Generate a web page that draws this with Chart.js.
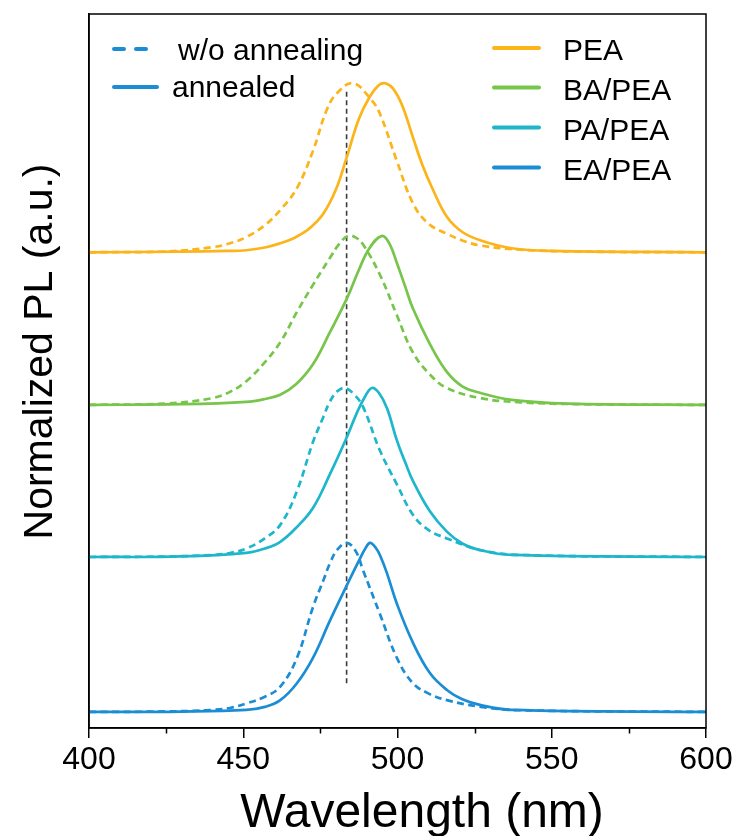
<!DOCTYPE html>
<html>
<head>
<meta charset="utf-8">
<script src="https://cdn.jsdelivr.net/npm/chart.js@4"></script>
<style>
html,body{margin:0;padding:0;background:#fff;}
canvas{display:block;}
</style>
</head>
<body>
<canvas id="c" width="737" height="836"></canvas>
<script>
// ---- data ----
const seriesNames = ['PEA', 'BA/PEA', 'PA/PEA', 'EA/PEA'];
const seriesColors = ['#FBB41A', '#77C54A', '#1DB6CA', '#1B8DD5'];
const seriesOffsets = [2.72, 1.817, 0.917, 0];

const peaAnnealedNm = [400, 430, 445, 451, 457, 462, 466, 469, 472, 476, 480, 483.5, 487.5, 491, 494, 496, 498.5, 501.5, 505, 508, 511.5, 516, 521, 527, 537, 550, 600];
const peaAnnealedPL = [0, 0.004, 0.008, 0.012, 0.028, 0.053, 0.08, 0.11, 0.15, 0.23, 0.37, 0.56, 0.79, 0.92, 0.99, 1.0, 0.97, 0.87, 0.68, 0.52, 0.37, 0.21, 0.12, 0.07, 0.024, 0.008, 0];
const peaRawNm = [400, 425, 440, 446, 451, 457, 462, 467.4, 472.6, 477, 480.3, 485.6, 491.6, 494.3, 499.8, 505, 510, 516, 521, 527, 540, 560, 600];
const peaRawPL = [0, 0.005, 0.03, 0.055, 0.09, 0.16, 0.25, 0.38, 0.6, 0.84, 0.94, 1.0, 0.9, 0.82, 0.54, 0.29, 0.17, 0.11, 0.07, 0.04, 0.015, 0.004, 0];

const baAnnealedNm = [400, 430, 451, 457, 462, 467, 472.6, 478.1, 483.6, 487.5, 491, 495, 497.5, 499.8, 502.5, 505, 510.5, 516, 521, 527, 537, 555, 600];
const baAnnealedPL = [0, 0.004, 0.018, 0.035, 0.06, 0.12, 0.24, 0.43, 0.63, 0.8, 0.93, 1.0, 0.95, 0.84, 0.7, 0.57, 0.36, 0.195, 0.11, 0.07, 0.03, 0.008, 0];
const baRawNm = [400, 425, 440, 446, 451, 456.4, 462, 467.4, 472.6, 478.1, 481, 483.9, 486.5, 488.8, 494.3, 499.8, 505, 510.5, 516, 527, 540, 560, 600];
const baRawPL = [0, 0.008, 0.04, 0.08, 0.14, 0.24, 0.37, 0.55, 0.71, 0.87, 0.95, 1.0, 0.99, 0.95, 0.77, 0.53, 0.31, 0.18, 0.10, 0.04, 0.015, 0.004, 0];

const paAnnealedNm = [400, 430, 451, 457, 462, 467, 472.6, 478.1, 483.6, 487, 489.5, 491.7, 494, 496.6, 499.8, 502.5, 505, 510.5, 516, 521, 527, 537, 600];
const paAnnealedPL = [0, 0.003, 0.024, 0.05, 0.09, 0.17, 0.29, 0.49, 0.71, 0.86, 0.95, 1.0, 0.97, 0.88, 0.69, 0.56, 0.45, 0.27, 0.15, 0.08, 0.04, 0.012, 0];
const paRawNm = [400, 425, 440, 446, 451, 457, 462, 467.4, 472.6, 476, 478.1, 480.5, 483, 486, 488.8, 494.3, 499.8, 505, 510, 516, 527, 540, 600];
const paRawPL = [0, 0.003, 0.012, 0.025, 0.05, 0.11, 0.19, 0.39, 0.68, 0.83, 0.92, 0.98, 1.0, 0.96, 0.89, 0.63, 0.43, 0.25, 0.16, 0.11, 0.04, 0.012, 0];

const eaAnnealedNm = [400, 430, 451, 457, 462, 467.4, 472.6, 478.1, 483.6, 487.5, 489.5, 491.1, 493, 494.5, 496.6, 499.8, 505, 510.5, 516, 521, 527, 537, 600];
const eaAnnealedPL = [0, 0.002, 0.012, 0.03, 0.07, 0.17, 0.32, 0.54, 0.75, 0.895, 0.965, 1.0, 0.97, 0.92, 0.82, 0.64, 0.41, 0.23, 0.13, 0.075, 0.04, 0.012, 0];
const eaRawNm = [400, 425, 440, 446, 451, 457, 462, 467.4, 472.6, 476, 478.1, 480.5, 483.6, 486.5, 488.8, 494.3, 499.8, 505, 510, 516, 527, 540, 600];
const eaRawPL = [0, 0.003, 0.012, 0.025, 0.05, 0.09, 0.15, 0.32, 0.62, 0.78, 0.88, 0.96, 1.0, 0.95, 0.84, 0.58, 0.32, 0.17, 0.11, 0.07, 0.03, 0.01, 0];

const guideNm = [483.5, 483.5];
const guideLevel = [0.17, 3.69];

const xTickValues = [400, 450, 500, 550, 600];
const xMinorTickValues = [425, 475, 525, 575];
const xTitle = 'Wavelength (nm)';
const yTitle = 'Normalized PL (a.u.)';
const legendStyleLabels = ['w/o annealing', 'annealed'];

// ---- build datasets ----
const annealedNm = [peaAnnealedNm, baAnnealedNm, paAnnealedNm, eaAnnealedNm];
const annealedPL = [peaAnnealedPL, baAnnealedPL, paAnnealedPL, eaAnnealedPL];
const rawNm = [peaRawNm, baRawNm, paRawNm, eaRawNm];
const rawPL = [peaRawPL, baRawPL, paRawPL, eaRawPL];

function pts(xs, ys, off) { return xs.map((x, i) => ({x: x, y: ys[i] + off})); }

const datasets = [];
for (let i = 0; i < 4; i++) {
  datasets.push({
    label: seriesNames[i] + ' w/o annealing',
    data: pts(rawNm[i], rawPL[i], seriesOffsets[i]),
    borderColor: seriesColors[i], borderWidth: 2.7, borderDash: [7, 4.5],
    pointRadius: 0, fill: false, tension: 0.4
  });
  datasets.push({
    label: seriesNames[i] + ' annealed',
    data: pts(annealedNm[i], annealedPL[i], seriesOffsets[i]),
    borderColor: seriesColors[i], borderWidth: 2.7,
    pointRadius: 0, fill: false, tension: 0.4
  });
}
datasets.push({
  label: 'guide',
  data: pts(guideNm, guideLevel, 0),
  borderColor: '#3a3a3a', borderWidth: 1.6, borderDash: [5, 3.5],
  pointRadius: 0, fill: false
});

const FONT = '"Liberation Sans", Arial, Helvetica, sans-serif';

const decor = {
  id: 'decor',
  afterDraw(chart) {
    const {ctx, chartArea: a, scales} = chart;
    ctx.save();
    // frame
    ctx.strokeStyle = '#000'; ctx.lineWidth = 1.5;
    ctx.strokeRect(a.left, a.top, a.right - a.left, a.bottom - a.top);
    // minor ticks
    ctx.beginPath();
    xMinorTickValues.forEach(v => {
      const px = Math.round(scales.x.getPixelForValue(v)) + 0.5;
      ctx.moveTo(px, a.bottom); ctx.lineTo(px, a.bottom + 5.5);
    });
    ctx.stroke();
    // axis titles
    ctx.fillStyle = '#000';
    ctx.textAlign = 'center'; ctx.textBaseline = 'alphabetic';
    ctx.font = '48px ' + FONT;
    ctx.fillText(xTitle, 422, 827);
    ctx.save();
    ctx.translate(52, 351.5);
    ctx.rotate(-Math.PI / 2);
    ctx.font = '41px ' + FONT;
    ctx.fillText(yTitle, 0, 0);
    ctx.restore();
    // legend (left: line style)
    ctx.lineCap = 'round';
    ctx.lineWidth = 4;
    ctx.strokeStyle = seriesColors[3];
    ctx.beginPath();
    ctx.moveTo(114, 49); ctx.lineTo(124, 49);
    ctx.moveTo(136, 49); ctx.lineTo(146, 49);
    ctx.stroke();
    ctx.beginPath();
    ctx.moveTo(114, 87); ctx.lineTo(157, 87);
    ctx.stroke();
    ctx.font = '30px ' + FONT;
    ctx.textAlign = 'left';
    ctx.fillText(legendStyleLabels[0], 178, 60);
    ctx.fillText(legendStyleLabels[1], 172, 97);
    // legend (right: series)
    const rows = [48, 87.5, 127.5, 167.5];
    const bases = [60, 99.5, 139.5, 179.5];
    for (let i = 0; i < 4; i++) {
      ctx.strokeStyle = seriesColors[i];
      ctx.beginPath();
      ctx.moveTo(494, rows[i]); ctx.lineTo(539, rows[i]);
      ctx.stroke();
      ctx.fillText(seriesNames[i], 563, bases[i]);
    }
    ctx.restore();
  }
};

new Chart(document.getElementById('c'), {
  type: 'line',
  data: {datasets: datasets},
  options: {
    responsive: false,
    animation: false,
    devicePixelRatio: 1,
    layout: {padding: {top: 14, right: 31, left: 0, bottom: 0}},
    plugins: {legend: {display: false}, tooltip: {enabled: false}},
    scales: {
      x: {
        type: 'linear', min: 400, max: 600,
        afterBuildTicks(scale) { scale.ticks = xTickValues.map(v => ({value: v})); },
        afterFit(scale) { scale.height = 108; },
        ticks: {color: '#000', padding: 3, font: {family: FONT, size: 32}, maxRotation: 0},
        grid: {display: true, drawOnChartArea: false, drawTicks: true, tickLength: 10, color: '#000', lineWidth: 1.5},
        border: {display: true, color: '#000', width: 1.5}
      },
      y: {
        type: 'linear', min: -0.095, max: 4.13,
        afterFit(scale) { scale.width = 89; },
        ticks: {display: false},
        grid: {display: false},
        border: {display: true, color: '#000', width: 1.5}
      }
    }
  },
  plugins: [decor]
});
</script>
</body>
</html>
